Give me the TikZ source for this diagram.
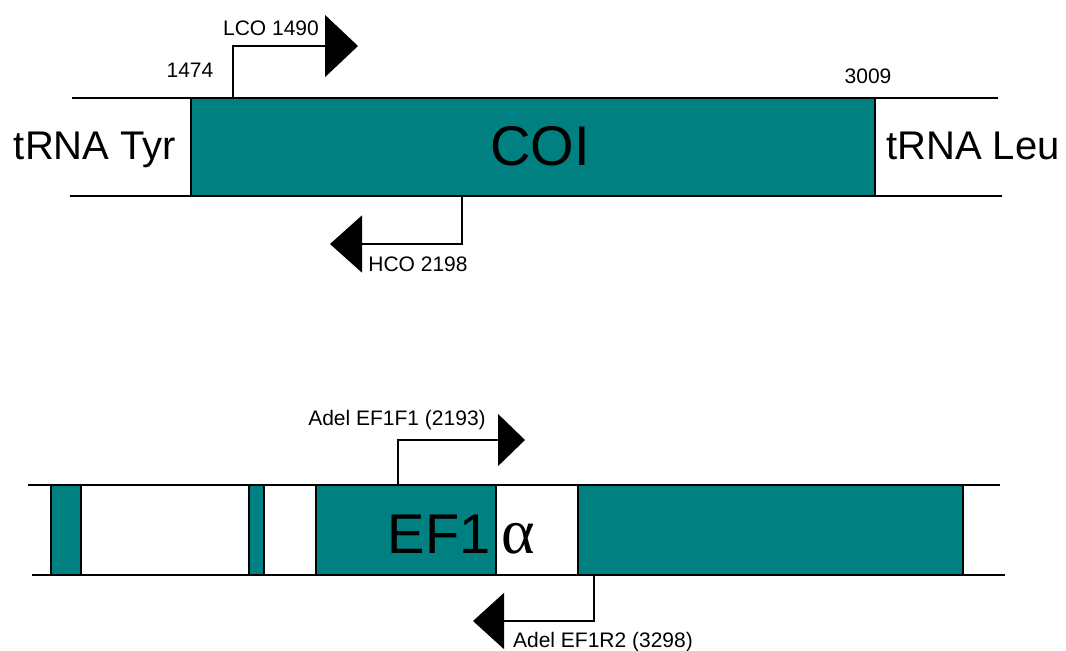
\documentclass[tikz,border=0pt]{standalone}
\usepackage{fontspec}
\setmainfont{Liberation Sans}
\newfontfamily\greekfont{Liberation Serif}
\usetikzlibrary{arrows.meta, fit}

\definecolor{exonteal}{RGB}{0,128,128}

\tikzset{
    strand/.style={line width=1pt},
    exon/.style={draw, line width=1pt, fill=exonteal, inner sep=0pt},
    intron/.style={draw, line width=1pt, fill=white, inner sep=0pt},
    primer/.style 2 args={line width=0.7pt, -{Triangle[length=#1, width=#2]}},
    primerlbl/.style={font=\fontsize{10.5}{12}\selectfont, anchor=base},
    genelbl/.style={font=\fontsize{20}{24}\selectfont, anchor=base},
    biglbl/.style={font=\fontsize{28}{32}\selectfont, anchor=base}
}

\begin{document}
\begin{tikzpicture}[x=0.5pt, y=-0.5pt]
    \useasboundingbox (0,0) rectangle (1066,650);

    % COI region
    \draw[strand] (72,98) -- (998,98);
    \draw[strand] (70,196) -- (1002,196);
    \node[exon, fit={(191,98) (875,196)}] (coi) {};
    \node[biglbl] (coiname) at (540,165) {COI};
    \node[genelbl] (tyr) at (95,159) {tRNA Tyr};
    \node[genelbl] (leu) at (973,159) {tRNA Leu};
    \node[primerlbl] (start) at (190,77) {1474};
    \node[primerlbl] (stop) at (868,83) {3009};

    % COI primers
    \coordinate (lco) at (233,98);
    \coordinate (lcotip) at (358,46);
    \draw[primer={16.5pt}{31pt}] (lco) |- (lcotip);
    \node[primerlbl] (lconame) at (271,35) {LCO 1490};

    \coordinate (hco) at (462,196);
    \coordinate (hcotip) at (330,244);
    \draw[primer={16pt}{28.5pt}] (hco) |- (hcotip);
    \node[primerlbl] (hconame) at (418,271) {HCO 2198};

    % EF1 alpha region
    \draw[strand] (28,485) -- (1000,485);
    \draw[strand] (32,575) -- (1005,575);
    \node[exon, fit={(51,485) (81,575)}] (ex1) {};
    \node[exon, fit={(249,485) (264,575)}] (ex2) {};
    \node[exon, fit={(316,485) (496,575)}] (ex3) {};
    \node[intron, fit={(496,485) (578,575)}] (in3) {};
    \node[exon, fit={(578,485) (963,575)}] (ex4) {};
    \node[biglbl] (efname) at (439,553) {EF1};
    \node[biglbl, font=\fontsize{32}{36}\greekfont] (alpha) at (518,553) {α};

    % EF1 alpha primers
    \coordinate (fwd) at (398,485);
    \coordinate (fwdtip) at (525,440);
    \draw[primer={13.5pt}{26pt}] (fwd) |- (fwdtip);
    \node[primerlbl] (fwdname) at (397,425) {Adel EF1F1 (2193)};

    \coordinate (rev) at (594,575);
    \coordinate (revtip) at (473,621);
    \draw[primer={15.5pt}{28pt}] (rev) |- (revtip);
    \node[primerlbl] (revname) at (603,647) {Adel EF1R2 (3298)};
\end{tikzpicture}
\end{document}
